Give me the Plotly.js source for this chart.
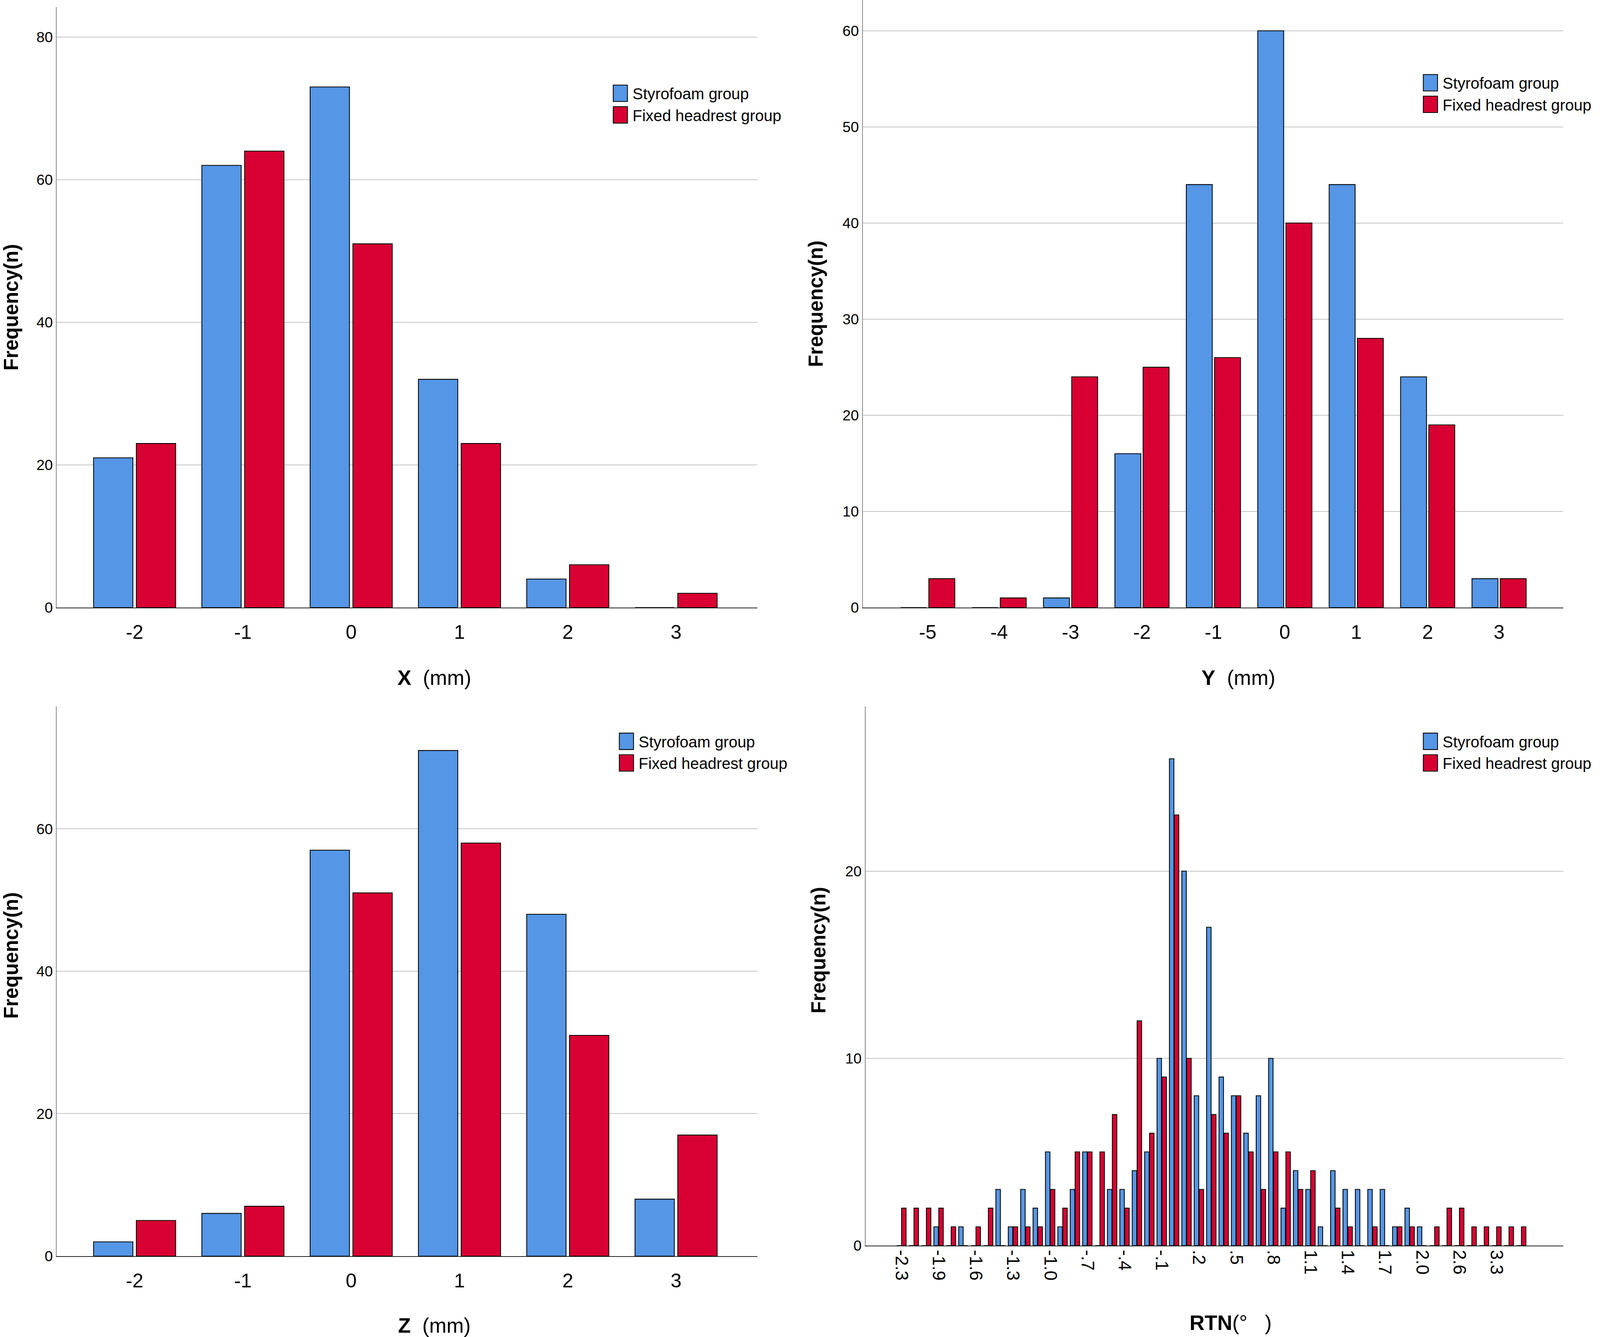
<!DOCTYPE html>
<html>
<head>
<meta charset="utf-8">
<script src="https://cdn.plot.ly/plotly-3.0.1.min.js"></script>
<style>
  html, body { margin: 0; padding: 0; background: #fff; }
  #chart { position: absolute; left: 0; top: 0; }
</style>
</head>
<body>
<div id="chart"></div>
<script>
// ---- data ----
const xCats = ['-2', '-1', '0', '1', '2', '3'];
const xStyrofoam = [21, 62, 73, 32, 4, 0];
const xFixed = [23, 64, 51, 23, 6, 2];

const yCats = ['-5', '-4', '-3', '-2', '-1', '0', '1', '2', '3'];
const yStyrofoam = [0, 0, 1, 16, 44, 60, 44, 24, 3];
const yFixed = [3, 1, 24, 25, 26, 40, 28, 19, 3];

const zCats = ['-2', '-1', '0', '1', '2', '3'];
const zStyrofoam = [2, 6, 57, 71, 48, 8];
const zFixed = [5, 7, 51, 58, 31, 17];

const rtnCats = ['-2.3', '-2.1', '-2.0', '-1.9', '-1.8', '-1.7', '-1.6', '-1.5', '-1.4', '-1.3',
                 '-1.2', '-1.1', '-1.0', '-.9', '-.8', '-.7', '-.6', '-.5', '-.4', '-.3',
                 '-.2', '-.1', '.0', '.1', '.2', '.3', '.4', '.5', '.6', '.7',
                 '.8', '.9', '1.0', '1.1', '1.2', '1.3', '1.4', '1.5', '1.6', '1.7',
                 '1.8', '1.9', '2.0', '2.2', '2.4', '2.6', '2.8', '3.0', '3.3', '3.5', '3.7'];
const rtnStyrofoam = [0, 0, 0, 1, 0, 1, 0, 0, 3, 1,
                      3, 2, 5, 1, 3, 5, 0, 3, 3, 4,
                      5, 10, 26, 20, 8, 17, 9, 8, 6, 8,
                      10, 2, 4, 3, 1, 4, 3, 3, 3, 3,
                      1, 2, 1, 0, 0, 0, 0, 0, 0, 0, 0];
const rtnFixed = [2, 2, 2, 2, 1, 0, 1, 2, 0, 1,
                  1, 1, 3, 2, 5, 5, 5, 7, 2, 12,
                  6, 9, 23, 10, 3, 7, 6, 8, 5, 3,
                  5, 5, 3, 4, 0, 2, 1, 0, 1, 0,
                  1, 1, 0, 1, 2, 2, 1, 1, 1, 1, 1];
const rtnTickLabels = ['-2.3', '-1.9', '-1.6', '-1.3', '-1.0', '-.7', '-.4', '-.1', '.2', '.5',
                       '.8', '1.1', '1.4', '1.7', '2.0', '2.6', '3.3'];

const seriesNames = ['Styrofoam group', 'Fixed headrest group'];
const seriesColors = ['#5596E6', '#D80032'];

// ---- sizing (base design is 1575 x 1141 units, fills the window) ----
const W = window.innerWidth || 4724;
const H = window.innerHeight || 3422;
const SX = W / 1575, SY = H / 1141;
const px = v => v * SX;               // horizontal / general sizes
const pxv = v => v * SY;              // vertical offsets
const pxm = v => (px(v) + pxv(v)) / 2; // mixed (fonts)
document.getElementById('chart').style.width = W + 'px';
document.getElementById('chart').style.height = H + 'px';

// ---- traces ----
function bar(x, y, k, xa, ya, leg) {
  return {
    type: 'bar', x: x, y: y, name: seriesNames[k], xaxis: xa, yaxis: ya,
    legend: leg, showlegend: true,
    marker: { color: seriesColors[k], line: { color: '#000', width: px(0.8) } },
    hoverinfo: 'x+y+name'
  };
}
const data = [
  bar(xCats, xStyrofoam, 0, 'x', 'y', 'legend'),
  bar(xCats, xFixed, 1, 'x', 'y', 'legend'),
  bar(yCats, yStyrofoam, 0, 'x2', 'y2', 'legend2'),
  bar(yCats, yFixed, 1, 'x2', 'y2', 'legend2'),
  bar(zCats, zStyrofoam, 0, 'x3', 'y3', 'legend3'),
  bar(zCats, zFixed, 1, 'x3', 'y3', 'legend3'),
  bar(rtnCats, rtnStyrofoam, 0, 'x4', 'y4', 'legend4'),
  bar(rtnCats, rtnFixed, 1, 'x4', 'y4', 'legend4')
];

// ---- layout ----
const FONT = 'Arial, "Liberation Sans", Helvetica, sans-serif';
function xAxis(domain, anchor, range, cats, titleHtml, extra) {
  const a = {
    domain: domain, anchor: anchor, type: 'category', range: range,
    categoryorder: 'array', categoryarray: cats,
    showline: true, linecolor: '#222', linewidth: px(0.8), mirror: false,
    showgrid: false, zeroline: false,
    ticks: 'outside', ticklen: pxv(6), tickcolor: 'rgba(0,0,0,0)',
    tickfont: { size: pxm(18), color: '#000', family: FONT },
    title: { text: titleHtml, font: { size: pxm(19), color: '#000', family: FONT }, standoff: pxv(23.5) }
  };
  return Object.assign(a, extra || {});
}
function yAxis(domain, anchor, range, tickvals) {
  return {
    domain: domain, anchor: anchor, range: range,
    showline: true, linecolor: '#8a8a8a', linewidth: px(0.9),
    showgrid: true, gridcolor: '#c4c4c4', gridwidth: px(0.8), zeroline: false,
    ticks: '', tickmode: 'array', tickvals: tickvals,
    tickfont: { size: pxm(13.5), color: '#000', family: FONT },
    title: { text: '<b>Frequency(n)</b>', font: { size: (px(18) + pxv(18.5)) / 2, color: '#000', family: FONT }, standoff: px(13) }
  };
}
function legendAt(x, y) {
  return {
    x: x, y: y, xanchor: 'left', yanchor: 'top', xref: 'paper', yref: 'paper',
    bgcolor: 'rgba(0,0,0,0)', borderwidth: 0, tracegroupgap: 0,
    itemwidth: Math.max(30, 24 * SX - 10),
    font: { size: px(15.5), color: '#000', family: FONT }
  };
}

const layout = {
  width: W, height: H,
  margin: { l: 0, r: 0, t: 0, b: 0, autoexpand: false },
  paper_bgcolor: '#fff', plot_bgcolor: '#fff',
  font: { family: FONT, color: '#000' },
  barmode: 'group', bargap: 0.21, bargroupgap: 0.08,
  showlegend: true,
  xaxis: xAxis([0.0354, 0.4733], 'y', [-0.72, 5.75], xCats, '<b>X</b>\u00a0\u00a0(mm)'),
  yaxis: yAxis([0.5456, 0.9947], 'x', [0, 84.2], [0, 20, 40, 60, 80]),
  xaxis2: xAxis([0.5392, 0.9771], 'y2', [-0.91, 8.9], yCats, '<b>Y</b>\u00a0\u00a0(mm)'),
  yaxis2: yAxis([0.5456, 1.0], 'x2', [0, 63.2], [0, 10, 20, 30, 40, 50, 60]),
  xaxis3: xAxis([0.0354, 0.4733], 'y3', [-0.72, 5.75], zCats, '<b>Z</b>\u00a0\u00a0(mm)'),
  yaxis3: yAxis([0.0605, 0.4717], 'x3', [0, 77.2], [0, 20, 40, 60]),
  xaxis4: xAxis([0.5409, 0.9771], 'y4', [-2.9, 53.4], rtnCats, '',
                { tickmode: 'array', tickvals: rtnTickLabels, ticktext: rtnTickLabels, tickangle: 90,
                  ticks: '', ticklen: 0, tickfont: { size: px(17.5), color: '#000', family: FONT },
                  title: { text: '<b>RTN</b>(°\u00a0\u00a0\u00a0)', font: { size: pxm(19), color: '#000', family: FONT }, standoff: pxv(30) } }),
  yaxis4: yAxis([0.0684, 0.4717], 'x4', [0, 28.8], [0, 10, 20]),
  legend: legendAt(0.3801, 0.9398),
  legend2: legendAt(0.8864, 0.9477),
  legend3: legendAt(0.3839, 0.4551),
  legend4: legendAt(0.8864, 0.4551)
};

// title offsets seen in the original (titles sit right of / above the axis centre)
const titleShift = { xtitle: [27, 0], x2title: [25, 0], x3title: [27, 0], x4title: [16, 0],
                     y3title: [0, -22], y4title: [0, -22] };

function finishStyling() {
  const hx = px(7), hy = pxv(7);
  document.querySelectorAll('.legendpoints path').forEach(p => {
    p.setAttribute('d', 'M' + hx + ',' + hy + 'H' + (-hx) + 'V' + (-hy) + 'H' + hx + 'Z');
  });
  Object.keys(titleShift).forEach(k => {
    const g = document.querySelector('.g-' + k);
    if (!g) return;
    const d = titleShift[k];
    const prev = g.getAttribute('transform') || '';
    g.setAttribute('transform', prev + ' translate(' + px(d[0]) + ',' + pxv(d[1]) + ')');
  });
}
Plotly.newPlot('chart', data, layout, { displayModeBar: false, responsive: false })
  .then(finishStyling);
</script>
</body>
</html>
